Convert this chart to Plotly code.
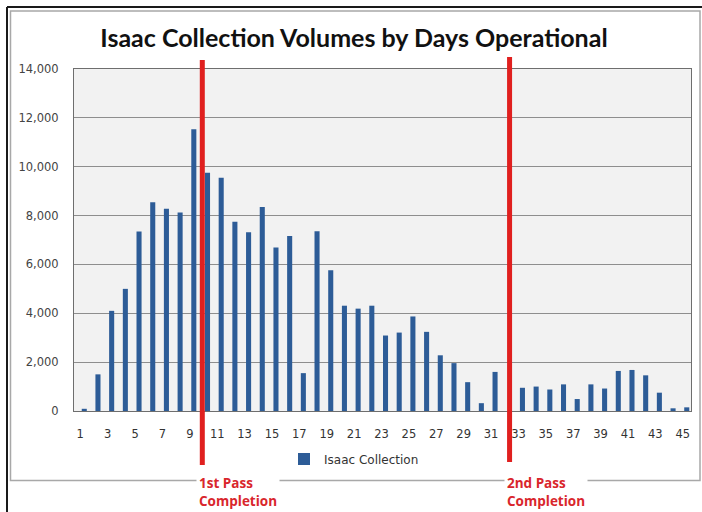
import plotly.graph_objects as go

# Daily collection volumes, days 1..45
days = list(range(1, 46))
collection = [90, 1500, 4100, 5000, 7350, 8550, 8280, 8130, 11530, 9750,
              9550, 7750, 7320, 8350, 6690, 7160, 1550, 7360, 5760, 4310,
              4190, 4310, 3090, 3210, 3870, 3240, 2280, 1960, 1180, 320,
              1600, 0, 950, 1000, 880, 1090, 490, 1090, 920, 1640,
              1680, 1460, 750, 110, 150]
x_ticks = list(range(1, 46, 2))
y_ticks = list(range(0, 14001, 2000))

# Pass completion markers (day position)
pass_days = [9.62, 32.06]
pass_labels = ["1st Pass<br>Completion", "2nd Pass<br>Completion"]

W, H = 702, 512
L, T, R, B = 74, 69, 691, 411


def px_x(p):
    return (p - L) / (R - L)


def px_y(p):
    return (B - p) / (B - T)


BAR_BLUE = "#2d5c97"
RED = "#e0201f"

fig = go.Figure()
fig.add_trace(go.Bar(
    x=days, y=collection, name="Isaac Collection",
    marker=dict(color=BAR_BLUE, line=dict(width=0)),
    width=0.37, showlegend=True,
))

shapes = []
# outer dark frame (top and left edges)
shapes.append(dict(type="line", xref="paper", yref="paper",
                   x0=px_x(7), x1=px_x(704), y0=px_y(7), y1=px_y(7),
                   line=dict(color="#1a1a1a", width=2), layer="above"))
shapes.append(dict(type="line", xref="paper", yref="paper",
                   x0=px_x(7), x1=px_x(7), y0=px_y(7), y1=px_y(514),
                   line=dict(color="#1a1a1a", width=2), layer="above"))
# chart area frame
shapes.append(dict(type="rect", xref="paper", yref="paper",
                   x0=px_x(10.5), x1=px_x(700), y0=px_y(11), y1=px_y(480.5),
                   line=dict(color="#a8a8a8", width=1.5), layer="below"))
# pass completion lines
tops = [60, 57]
bottoms = [465, 462]
for d, t0, b0 in zip(pass_days, tops, bottoms):
    shapes.append(dict(type="line", xref="x", yref="paper",
                       x0=d, x1=d, y0=px_y(b0), y1=px_y(t0),
                       line=dict(color=RED, width=5), layer="above"))

annotations = []
for d, lab in zip(pass_days, pass_labels):
    annotations.append(dict(
        x=d, xref="x", xanchor="left", xshift=-6,
        y=px_y(471), yref="paper", yanchor="top",
        text=lab, showarrow=False, align="left",
        font=dict(family="Open Sans", size=13.5, color="#d9262c", weight="bold"),
        bgcolor="white", borderpad=2,
    ))

fig.update_layout(
    width=W, height=H,
    margin=dict(l=L, r=W - R, t=T, b=H - B),
    paper_bgcolor="white",
    plot_bgcolor="#f2f2f2",
    title=dict(
        text="<b>Isaac Collection Volumes by Days Operational</b>",
        x=354 / W, xanchor="center", y=1 - 38 / H, yanchor="middle",
        xref="container", yref="container",
        font=dict(family="Lato", size=25, color="#111111"),
    ),
    xaxis=dict(
        range=[0.25, 45.31], tickmode="array", tickvals=x_ticks,
        ticktext=[str(v) for v in x_ticks],
        showgrid=False, zeroline=False,
        showline=True, linecolor="#6e6e6e", linewidth=1, mirror=True,
        ticks="", ticklabelstandoff=12, ticklabelshift=-4,
        tickfont=dict(family="DejaVu Sans", size=11.5, color="#333333"),
    ),
    yaxis=dict(
        range=[0, 14000], tickmode="array", tickvals=y_ticks,
        tickformat=",", showgrid=True, gridcolor="#8e8e8e", gridwidth=1,
        zeroline=False, showline=True, linecolor="#6e6e6e", linewidth=1,
        mirror=True, ticks="", ticklabelstandoff=12,
        tickfont=dict(family="DejaVu Sans", size=11.5, color="#444444"),
    ),
    legend=dict(
        orientation="h", x=px_x(284), xanchor="left",
        y=px_y(459), yanchor="middle",
        bgcolor="rgba(0,0,0,0)",
        font=dict(family="DejaVu Sans", size=12, color="#333333"),
        itemwidth=30,
    ),
    shapes=shapes,
    annotations=annotations,
    bargap=0.6,
)

fig.write_html("out.html")
